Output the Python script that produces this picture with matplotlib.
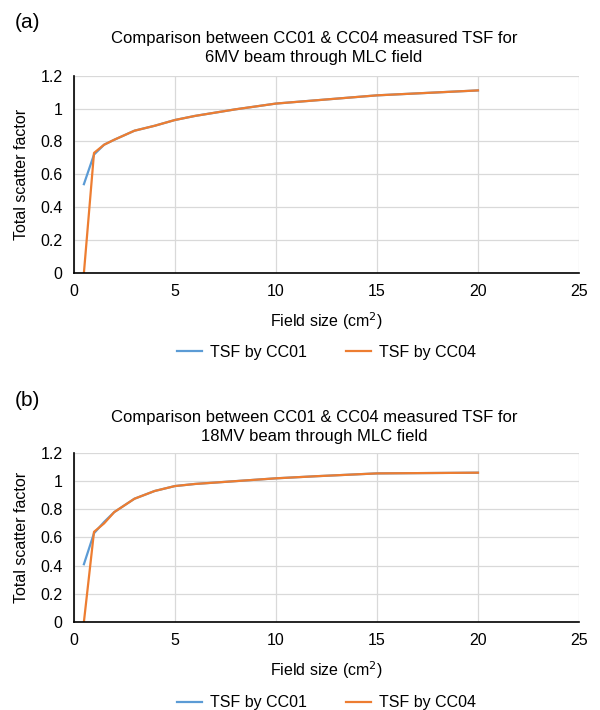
import matplotlib.pyplot as plt

plt.rcParams['font.family'] = ['Liberation Sans', 'DejaVu Sans']

# field sizes (cm^2)
fs = [0.5, 1, 1.5, 2, 3, 4, 5, 6, 8, 10, 12, 15, 20]

# 6MV
cc01_6mv = [0.54, 0.72, 0.78, 0.81, 0.865, 0.895, 0.93, 0.955, 0.995, 1.03, 1.05, 1.08, 1.11]
cc04_6mv = [0.0, 0.73, 0.78, 0.81, 0.865, 0.895, 0.93, 0.955, 0.995, 1.03, 1.05, 1.08, 1.11]

# 18MV
cc01_18mv = [0.41, 0.63, 0.71, 0.78, 0.875, 0.93, 0.965, 0.98, 1.0, 1.02, 1.035, 1.055, 1.06]
cc04_18mv = [0.0, 0.64, 0.70, 0.78, 0.875, 0.93, 0.965, 0.98, 1.0, 1.02, 1.035, 1.055, 1.06]

blue = '#5B9BD5'
orange = '#ED7D31'

fig = plt.figure(figsize=(6, 7.1), dpi=100)
ax1 = fig.add_axes([0.123, 0.6155, 0.842, 0.278])
ax2 = fig.add_axes([0.123, 0.124, 0.842, 0.238])

panels = [
    (ax1, cc01_6mv, cc04_6mv, 'Comparison between CC01 & CC04 measured TSF for\n6MV beam through MLC field', '(a)', 0.981, 0.957, -0.29),
    (ax2, cc01_18mv, cc04_18mv, 'Comparison between CC01 & CC04 measured TSF for\n18MV beam through MLC field', '(b)', 0.449, 0.423, -0.35),
]

for ax, a, b, title, tag, tagy, titley, legy in panels:
    ax.plot(fs, a, color=blue, lw=1.6, label='TSF by CC01')
    ax.plot(fs, b, color=orange, lw=1.6, label='TSF by CC04')
    ax.set_xlim(0, 25)
    ax.set_ylim(0, 1.2)
    ax.set_xticks([0, 5, 10, 15, 20, 25])
    ax.set_yticks([0, 0.2, 0.4, 0.6, 0.8, 1, 1.2])
    ax.set_yticklabels(['0', '0.2', '0.4', '0.6', '0.8', '1', '1.2'])
    ax.grid(True, color='#d9d9d9', lw=0.9)
    ax.set_axisbelow(True)
    for s in ['top', 'right']:
        ax.spines[s].set_visible(False)
    ax.spines['left'].set_linewidth(1.2)
    ax.spines['bottom'].set_linewidth(1.2)
    ax.tick_params(length=0, labelsize=11.5, pad=8)
    ax.set_xlabel('Field size (cm$^2$)', fontsize=11.5, labelpad=8)
    ax.set_ylabel('Total scatter factor', fontsize=11.5, labelpad=8)
    fig.text(0.523, titley, title, fontsize=12, ha='center', va='top', linespacing=1.38)
    ax.legend(loc='upper center', bbox_to_anchor=(0.5, legy), ncol=2, frameon=False,
              fontsize=11.5, handlelength=1.6, handletextpad=0.5, columnspacing=2.4)
    fig.text(0.025, tagy, tag, fontsize=15, va='top')

fig.savefig('out.png', dpi=100)
